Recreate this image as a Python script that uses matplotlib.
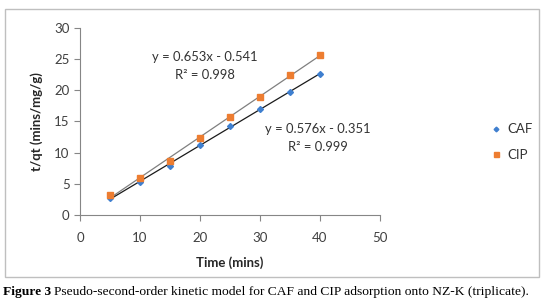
import matplotlib
matplotlib.use("Agg")
import matplotlib.pyplot as plt
from matplotlib.patches import Rectangle
import numpy as np

time = [5, 10, 15, 20, 25, 30, 35, 40]
caf = [2.7, 5.3, 7.9, 11.2, 14.2, 17.0, 19.8, 22.6]
cip = [3.2, 6.0, 8.7, 12.3, 15.7, 19.0, 22.4, 25.6]
caf_fit = [0.576, -0.351]
cip_fit = [0.653, -0.541]
caf_eq = ["y = 0.576x - 0.351", "R² = 0.999"]
cip_eq = ["y = 0.653x - 0.541", "R² = 0.998"]
xticks = [0, 10, 20, 30, 40, 50]
yticks = [0, 5, 10, 15, 20, 25, 30]

W, H = 555, 306
fig = plt.figure(figsize=(W / 100, H / 100), dpi=100)
font = "Lato"
gray = "#868686"

ax = fig.add_axes([80 / W, 1 - 215 / H, 300 / W, (215 - 28) / H])
xs = np.array([time[0], time[-1]])
ax.plot(xs, np.polyval(cip_fit, xs), color="#7f7f7f", lw=0.9, zorder=2)
ax.plot(xs, np.polyval(caf_fit, xs), color="#1a1a1a", lw=0.9, zorder=2)
ax.plot(time, caf, ls="none", marker="D", ms=3, color="#3f7fcf", label="CAF", zorder=3)
ax.plot(time, cip, ls="none", marker="s", ms=4.5, color="#ed7d31", label="CIP", zorder=3)

ax.set_xlim(0, 50)
ax.set_ylim(0, 30)
ax.set_xticks(xticks)
ax.set_yticks(yticks)
for s in ["top", "right"]:
    ax.spines[s].set_visible(False)
for s in ["left", "bottom"]:
    ax.spines[s].set_color(gray)
    ax.spines[s].set_linewidth(0.8)
ax.tick_params(colors=gray, labelcolor="#404040", length=4, width=0.8,
               labelsize=9.5)
for lab in ax.get_xticklabels() + ax.get_yticklabels():
    lab.set_fontfamily(font)
ax.tick_params(axis="x", pad=8)
ax.set_xlabel("Time (mins)", fontfamily=font, fontweight="bold", fontsize=9.5,
              color="#262626", labelpad=9)
ax.set_ylabel("t/qt (mins/mg/g)", fontfamily=font, fontweight="bold", fontsize=9.5,
              color="#262626", labelpad=8)

eqkw = dict(transform=fig.transFigure, ha="center", va="center",
            fontfamily=font, fontsize=9.4, color="#333333")
ax.text(205 / W, 1 - 57 / H, cip_eq[0], **eqkw)
ax.text(205 / W, 1 - 75 / H, cip_eq[1], **eqkw)
ax.text(318 / W, 1 - 129 / H, caf_eq[0], **eqkw)
ax.text(318 / W, 1 - 147 / H, caf_eq[1], **eqkw)

leg = fig.legend(loc="center left", bbox_to_anchor=(481 / W, 1 - 142 / H),
                 frameon=False, prop={"family": font, "size": 9.5},
                 handlelength=0.5, handletextpad=0.6, labelspacing=1.0,
                 markerscale=0.8)
for t in leg.get_texts():
    t.set_color("#333333")

fig.patches.append(Rectangle((5 / W, 1 - 277 / H), 534 / W, 268 / H,
                             transform=fig.transFigure, fill=False,
                             edgecolor="#bfbfbf", lw=1.0))

fig.text(3 / W, 1 - 292 / H, "Figure 3", fontfamily="Liberation Serif",
         fontweight="bold", fontsize=9.7, va="center", ha="left")
fig.text(54 / W, 1 - 292 / H,
         "Pseudo-second-order kinetic model for CAF and CIP adsorption onto NZ-K (triplicate).",
         fontfamily="Liberation Serif", fontsize=9.7, va="center", ha="left")

fig.savefig("out.png", dpi=100)
